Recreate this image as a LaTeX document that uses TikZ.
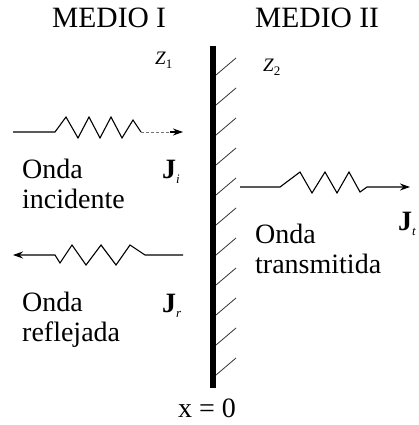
\documentclass[tikz,border=0pt]{standalone}
\usepackage{fontspec}
\setmainfont{Liberation Serif}
\usetikzlibrary{arrows.meta}
\newcommand\lowsub[1]{\raisebox{-0.45ex}{\fontsize{13}{13}\selectfont #1}}
\tikzset{
  txt/.style={inner sep=0pt, font=\fontsize{28}{30}\selectfont},
  ttl/.style={inner sep=0pt, font=\fontsize{29.5}{30}\selectfont},
  ztxt/.style={inner sep=0pt, font=\fontsize{19}{20}\selectfont},
  wave/.style={line width=1.1pt, line join=miter},
  tip/.style={-{Stealth[length=10pt,width=7pt]}},
  hatch/.style={line width=0.8pt, black!80},
  wall/.style={line width=6pt}
}
\begin{document}
\begin{tikzpicture}[x=1pt,y=-1pt]
\useasboundingbox (0,0) rectangle (419,425);
% wall
\coordinate (wt) at (213,46);
\coordinate (wb) at (213,388);
\draw[wall] (wt) -- (wb);
\foreach \k in {0,...,10}{
  \draw[hatch] (216,75+30*\k) -- ++(20,-17);
}
% titles
\node[ttl, anchor=base west] (m1) at (52,28) {MEDIO I};
\node[ttl, anchor=base west] (m2) at (255,28) {MEDIO II};
\node[ztxt, anchor=base west] (z1) at (155,65) {\textit{Z}\lowsub{1}};
\node[ztxt, anchor=base west] (z2) at (263,72) {\textit{Z}\lowsub{2}};
% incident wave
\coordinate (i0) at (13,132);
\coordinate (i1) at (141,132);
\coordinate (i2) at (183,132);
\draw[wave] (i0) -- (55,132) -- (66,117) -- (78,138) -- (89,117) -- (100,138) -- (111,117) -- (122,138) -- (133,120) -- (i1);
\draw[line width=1pt, black!55, densely dashed] (i1) -- (172,132);
\draw[wave, tip] (170,132) -- (i2);
\node[txt, anchor=north west, align=left] (oi) at (22,159) {Onda\\incidente};
\node[txt, anchor=base west] (ji) at (162,178) {\textbf{J}\lowsub{\textit{i}}};
% reflected wave
\coordinate (r0) at (183,255);
\coordinate (r1) at (13,255);
\draw[wave, tip] (r0) -- (145,255) -- (130,245) -- (116,265) -- (101,245) -- (86,265) -- (72,245) -- (60,263) -- (55,255) -- (r1);
\node[txt, anchor=north west, align=left] (or) at (22,292) {Onda\\reflejada};
\node[txt, anchor=base west] (jr) at (162,312) {\textbf{J}\lowsub{\textit{r}}};
% transmitted wave
\coordinate (t0) at (240,187);
\coordinate (t1) at (410,187);
\draw[wave, tip] (t0) -- (280,187) -- (300,172) -- (312,193) -- (325,172) -- (337,193) -- (349,172) -- (360,192) -- (367,187) -- (t1);
\node[txt, anchor=north west, align=left] (ot) at (255,224) {Onda\\transmitida};
\node[txt, anchor=base west] (jt) at (398,230) {\textbf{J}\lowsub{\textit{t}}};
% x = 0
\node[txt, anchor=base west] (x0) at (178,417) {x = 0};
\end{tikzpicture}
\end{document}
